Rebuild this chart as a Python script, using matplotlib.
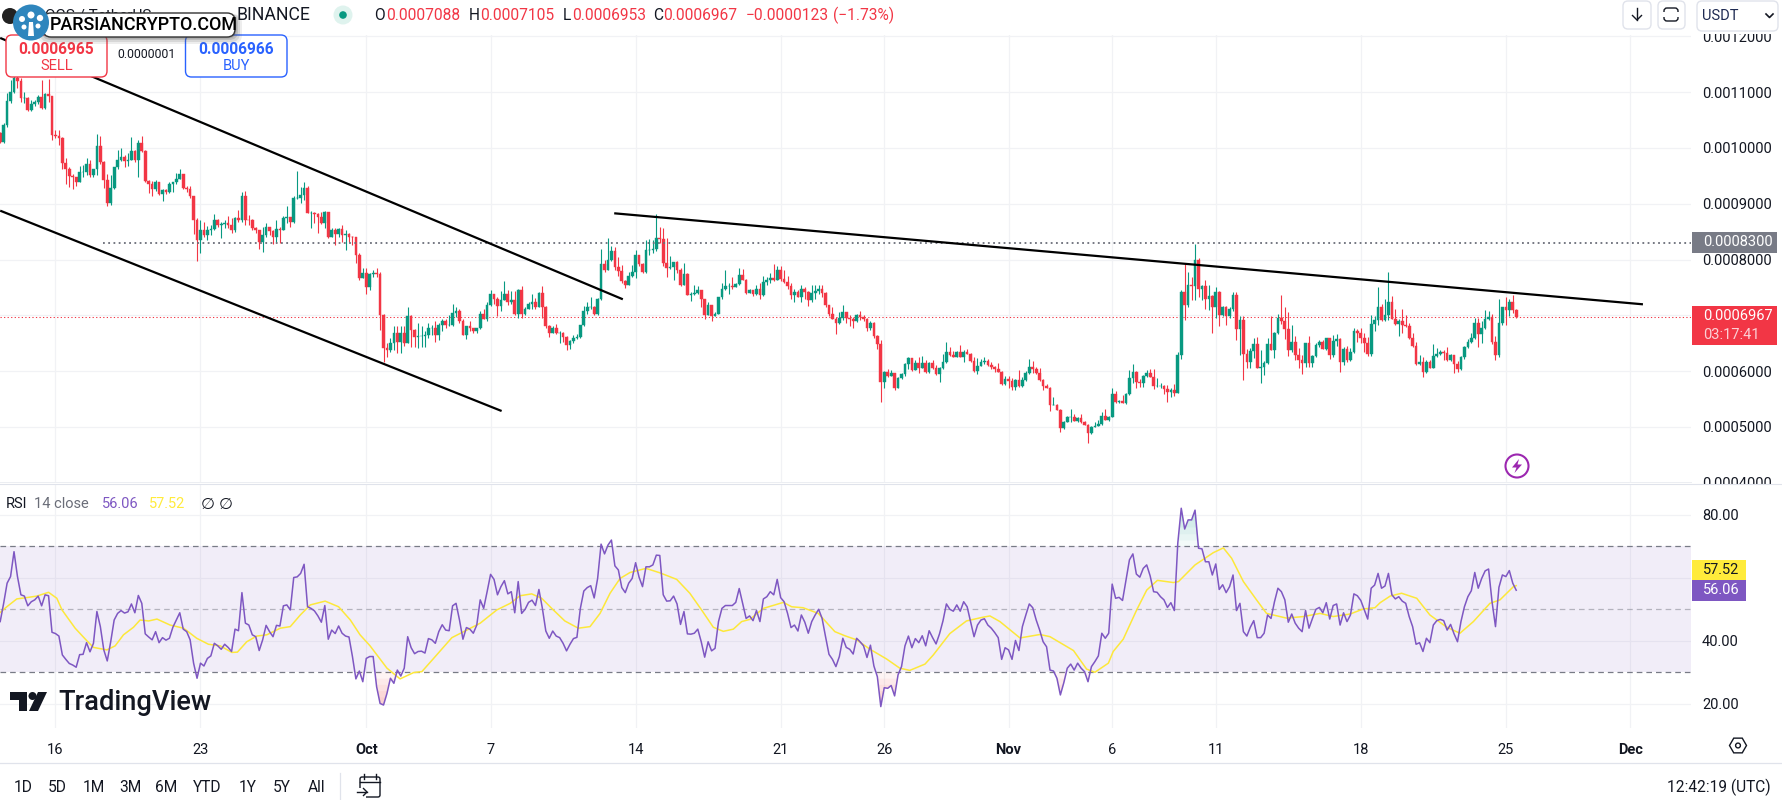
import matplotlib
matplotlib.use("Agg")
import matplotlib.pyplot as plt
import matplotlib.dates as mdates
import numpy as np
import pandas as pd
from matplotlib.patches import FancyBboxPatch, Circle, Polygon, Rectangle
from matplotlib.transforms import Bbox

# ---------- data (prices in millionths of USDT) ----------
first_open = 1026
closes = [
1011,1041,1084,1101,1125,1120,1090,1090,1068,1078, 1082,1091,1071,1096,1093,1023,1021,1017,973,963,
950,947,939,957,957,971,951,962,1003,975, 942,902,928,965,978,984,976,979,994,978,
1009,995,941,935,926,939,917,925,921,935, 938,945,953,929,927,913,870,835,853,844,
853,855,870,862,864,865,862,852,874,870, 914,871,870,856,852,832,844,858,851,841,
854,853,874,876,868,910,910,916,929,884, 884,881,877,866,885,841,852,846,854,844,
846,841,840,808,766,775,751,774,775,774, 700,642,638,650,668,653,668,651,699,674,
662,663,663,665,677,677,665,683,689,683, 683,705,708,690,665,680,677,672,677,703,
694,718,738,730,717,728,738,723,727,703, 745,702,711,720,724,714,740,715,681,668,
678,668,669,662,647,654,659,662,682,708, 714,715,702,729,792,781,800,816,787,780,
762,754,770,778,808,792,777,817,817,818, 838,836,793,784,787,795,781,755,774,737,
739,740,745,729,700,718,699,703,732,748, 752,752,750,756,772,764,740,745,738,748,
736,760,763,767,763,781,765,760,752,737, 742,733,747,741,727,740,744,748,740,718,
702,694,687,696,706,696,693,689,700,697, 693,678,687,663,648,581,599,592,596,569,
588,595,613,624,602,614,605,614,598,614, 605,595,606,617,634,628,626,635,625,635,
631,619,600,610,617,618,611,607,604,599, 577,586,583,571,584,573,584,597,608,604,
596,584,574,570,539,540,530,498,509,518, 518,511,516,508,503,489,500,502,505,520,
512,518,559,544,547,543,559,588,598,581, 579,591,596,590,574,574,574,568,563,567,
561,629,742,718,754,753,799,747,752,730, 734,714,742,700,714,699,711,736,675,692,
631,617,636,649,606,607,614,649,638,668, 696,689,675,637,652,629,620,615,650,614,
627,647,652,640,659,629,654,657,617,639, 620,635,672,668,660,651,631,684,692,714,
692,701,724,694,685,689,683,680,659,645, 613,616,599,617,606,627,631,635,632,620,
628,613,604,625,644,652,659,687,667,677, 693,697,652,628,686,714,710,724,709,697]
highs = [
1029,1045,1098,1122,1134,1131,1125,1101,1092,1086, 1086,1095,1122,1098,1123,1093,1032,1032,1019,981,
965,953,948,968,969,981,978,963,1025,1021, 976,954,951,966,997,999,988,990,1019,997,
1014,1021,996,942,941,942,939,927,926,938, 939,955,962,954,932,932,914,874,871,867,
860,862,882,873,868,870,878,874,877,889, 921,923,880,872,859,853,859,865,859,853,
871,858,878,895,877,914,959,930,939,932, 887,886,884,886,887,885,856,856,856,862,
853,847,842,841,811,784,784,775,781,784, 778,703,650,659,680,680,681,680,714,700,
675,687,680,671,686,683,689,686,693,694, 700,721,714,711,693,681,690,677,678,708,
712,723,745,739,733,744,761,746,743,744, 748,752,714,724,739,731,742,752,717,682,
681,685,672,670,663,656,665,666,683,717, 723,732,717,731,818,800,838,824,823,805,
790,763,778,790,817,808,794,835,836,835, 881,858,856,839,806,796,797,784,793,775,
742,754,752,746,730,723,718,706,733,758, 781,757,768,758,784,783,765,748,746,754,
757,770,768,775,792,788,788,782,770,757, 748,746,754,750,744,754,754,755,754,742,
718,715,697,706,718,706,700,697,702,708, 700,696,690,688,665,655,601,603,602,597,
590,596,615,626,624,620,626,627,620,616, 620,611,608,631,652,644,636,636,647,637,
640,633,626,623,621,626,621,617,609,614, 600,592,592,587,585,602,590,600,622,618,
608,606,586,577,572,553,541,532,510,519, 533,524,517,523,511,506,502,509,512,527,
533,520,569,564,549,557,561,602,613,600, 586,593,602,604,604,588,578,575,575,570,
577,635,745,792,778,769,828,803,754,763, 755,736,751,744,717,717,714,742,741,698,
698,639,641,660,661,638,619,659,698,670, 702,736,715,706,683,663,641,629,651,663,
629,651,655,655,660,660,665,666,660,643, 645,641,677,675,678,669,662,701,699,750,
720,729,777,735,712,694,711,701,686,668, 653,629,626,620,620,648,641,637,638,644,
630,629,619,627,645,657,669,696,696,690, 709,708,702,663,730,715,732,729,736,711]
lows = [
1008,1008,1038,1081,1099,1107,1083,1080,1067,1067, 1075,1079,1069,1069,1083,1015,1017,1005,963,935,
930,926,932,939,948,951,947,948,951,972, 929,895,898,926,962,977,965,968,978,975,
948,993,939,919,913,923,916,905,917,920, 921,935,944,927,921,910,846,798,812,841,
835,844,853,859,838,856,856,848,850,868, 868,862,862,853,847,818,814,841,844,828,
832,829,852,866,859,866,909,901,907,883, 857,865,847,864,856,838,840,826,841,832,
817,832,826,793,763,766,739,745,769,768, 674,617,626,635,638,632,632,645,659,644,
644,641,644,644,659,665,653,656,671,677, 680,680,697,687,665,657,672,669,668,675,
693,690,717,721,699,708,727,718,721,700, 696,696,700,711,711,712,715,696,678,662,
668,666,650,653,638,640,650,657,660,680, 703,712,701,700,727,778,781,798,782,770,
757,749,754,768,766,788,775,775,808,811, 816,829,789,768,783,764,776,752,756,736,
726,737,739,715,694,700,690,699,702,730, 746,738,748,750,754,763,739,740,735,736,
730,735,754,757,762,763,762,757,748,730, 724,732,724,730,717,724,730,738,733,715,
699,693,666,684,691,687,680,678,688,691, 690,671,674,660,639,545,569,590,591,566,
569,586,592,603,601,602,597,605,596,597, 603,593,581,603,615,627,625,625,625,617,
630,617,599,595,609,613,609,603,599,598, 575,576,569,566,567,571,571,583,595,596,
595,583,567,569,529,539,530,490,496,508, 509,511,509,507,503,472,488,499,502,503,
512,511,517,543,543,542,541,557,578,570, 572,571,589,589,568,571,569,559,545,554,
555,560,621,692,714,727,727,732,727,712, 710,669,695,681,698,683,696,708,655,629,
584,605,606,623,605,579,593,613,637,624, 667,684,657,627,635,620,605,595,608,608,
608,625,644,639,637,621,626,645,599,611, 617,619,632,653,650,635,627,627,671,683,
690,690,692,693,683,663,669,679,657,644, 611,611,590,597,605,605,625,628,620,619,
619,597,599,602,622,641,650,657,643,650, 675,692,649,620,626,683,683,698,705,695]
rsi = [
46.1,51.9,58.3,60.4,68.3,60.4,54.6,54.2,51.1,52.4, 53.0,54.2,51.1,54.6,54.3,42.7,42.3,41.5,35.5,34.1,
32.8,32.3,31.6,35.6,35.7,39.4,36.5,39.2,49.3,44.5, 37.1,33.6,39.7,46.6,48.7,49.6,48.8,49.2,51.7,48.9,
54.4,51.9,42.2,41.2,40.3,42.9,39.4,41.0,40.2,40.8, 44.3,46.6,48.9,43.7,42.9,40.3,32.9,28.1,32.9,32.0,
34.4,35.2,39.2,38.4,37.3,38.9,37.9,36.6,43.7,43.2, 55.3,45.6,45.0,41.9,41.3,36.9,40.3,44.9,42.9,41.3,
44.9,44.7,51.1,51.4,49.8,60.1,60.3,61.4,64.3,50.8, 50.3,49.5,47.9,45.9,51.2,40.5,43.4,42.3,44.7,42.4,
41.5,41.2,35.0,27.9,30.4,27.0,34.4,35.0,35.0,25.4, 20.1,19.6,23.3,28.1,26.5,30.7,28.8,31.3,41.3,37.8,
35.9,36.6,36.7,36.1,40.7,40.3,39.2,42.9,45.1,43.4, 43.2,51.1,51.9,46.6,40.5,44.2,43.7,42.4,45.0,53.0,
50.3,55.6,61.1,59.5,54.6,57.2,59.1,54.9,55.6,48.9, 58.8,48.7,50.0,52.2,52.9,51.2,56.3,50.3,43.1,40.8,
43.1,41.5,41.0,39.2,36.8,38.9,40.7,41.1,50.3,55.8, 56.9,57.5,53.6,59.8,70.7,67.6,70.4,72.0,63.8,62.5,
56.9,55.3,58.3,59.8,64.8,60.2,57.2,63.5,63.5,64.1, 67.2,67.1,54.6,52.6,52.7,54.2,51.7,45.2,49.3,42.2,
42.1,42.4,43.7,39.7,34.8,39.7,36.8,37.6,46.1,50.3, 51.2,51.2,51.2,52.2,56.6,51.9,47.1,47.9,46.4,49.6,
46.1,53.3,54.0,55.6,54.6,59.5,53.7,52.4,48.7,44.2, 45.0,43.1,48.2,45.9,42.4,46.1,48.2,50.0,47.1,41.3,
35.7,34.1,31.8,35.0,40.8,37.9,37.3,35.8,40.8,39.7, 38.4,34.7,38.6,32.0,28.6,19.1,25.1,24.9,25.8,22.5,
29.2,31.8,38.4,41.5,37.8,40.7,39.4,41.6,38.4,43.2, 41.0,39.0,42.2,46.3,51.7,50.0,49.4,51.4,49.4,52.4,
50.8,46.1,41.3,45.0,46.6,47.0,45.0,44.0,42.6,41.0, 34.1,37.8,37.1,34.1,40.1,36.9,44.5,48.2,51.7,50.5,
46.6,43.4,39.7,38.1,30.7,30.4,28.1,22.8,26.7,31.3, 32.6,30.7,32.9,31.3,30.2,27.0,31.8,33.4,35.2,42.4,
40.8,42.4,58.0,53.5,53.8,52.8,59.3,65.7,67.6,61.2, 60.2,63.0,64.1,60.6,55.6,55.4,54.0,53.0,50.6,52.1,
49.6,71.0,82.1,75.5,78.4,78.4,81.5,69.4,69.2,65.1, 65.1,60.9,64.4,56.3,57.8,55.3,57.2,60.9,49.6,51.9,
42.9,41.5,44.3,46.4,41.0,41.0,42.4,48.2,47.1,52.4, 56.7,55.6,53.0,45.9,48.5,45.6,44.0,42.9,49.6,44.0,
47.1,50.0,50.6,48.9,52.1,46.9,51.2,51.7,45.0,48.9, 46.1,48.2,54.9,54.3,52.8,49.8,46.9,56.7,57.7,61.4,
56.7,57.4,61.4,54.6,53.3,54.0,52.6,51.9,47.7,44.5, 38.9,39.4,36.6,40.8,39.4,45.0,46.4,46.8,46.4,43.4,
45.2,42.2,39.7,46.1,50.8,54.0,55.9,61.7,56.7,59.8, 62.2,62.8,52.4,44.5,57.0,60.9,60.4,62.3,58.3,56.06]
ma_bar = [
0,1.9,4.8,8.2,10.6,14,16.4,17.9,21.7,25.1,27,30.9,33.3,35.7,38.6,40.5,43,45.4,49.2,53.1,56.9,60.3,63.7,67.1,68.7,
71.4,74.3,77.2,81.1,84,86.9,89.8,94.1,98,101.4,104.2,107.1,112,115.8,119.7,122.1,125.5,130.8,135.1,139,143.8,147.7,
150.5,153.9,156.8,159.7,163.5,167.4,170.8,173.7,176.6,179.5,182.4,187,191,195.9,199.7,203.1,206.5,209.4,212.3,214.7,
217.1,221,226.8,229.2,232.5,236.9,241.7,244.6,248,251.9,256.7,260.5,263.4,267.8,270.2,275,279.8,284.2,286.6,289.5,
295.3,301.1,304,310.8,314.6,317,320.9,322.3,325.2,329.1,332,335.1,339.7,341.2,346,351.3,354.2,356.6,360,363.8,366.7,
372.5,377.4,382.2,386,390.9,394.7,398.1,399.6,402.5,405.8,410.2,414,418.9,422.7,426.6,431.4,434.3,438.2,439]
ma_val = [
49.0,50.8,53.3,53.8,54.2,55.4,53.5,49.8,44.0,40.0,37.9,37.1,38.4,41.9,44.3,46.6,46.3,46.9,45.0,44.0,40.8,38.9,38.4,36.3,36.4,
39.7,41.5,41.9,44.0,44.5,48.2,51.4,52.6,50.8,46.6,41.9,38.4,31.3,27.9,29.9,30.2,34.4,41.0,43.4,45.6,49.8,51.9,
54.3,54.9,53.5,50.3,46.3,44.0,44.5,48.7,55.1,59.8,61.7,63.0,61.6,59.5,55.1,49.8,44.3,43.0,43.7,46.1,
46.8,50.3,52.2,50.8,50.5,48.7,42.9,41.6,40.3,37.3,34.2,31.3,30.6,32.6,35.5,42.3,46.3,47.4,47.9,46.1,
40.9,42.0,41.3,36.9,31.0,30.0,32.9,36.6,40.5,49.8,56.1,59.2,58.5,58.8,64.1,68.0,69.5,66.2,58.8,53.0,48.7,
47.2,47.7,48.7,47.7,48.5,50.1,50.5,52.1,54.2,55.1,53.5,48.2,44.3,42.4,46.1,51.9,53.0,57.2,57.52]

upper_channel_bar = [0, 180.3]
upper_channel_price = [1197, 728.7]
lower_channel_bar = [0, 145.2]
lower_channel_price = [887.5, 528.5]
resistance_bar = [177.8, 475.7]
resistance_price = [882.8, 719.7]
level_bar_start = 29.8
level_price = 830
last_price = 696.7

price_ticks = [400, 500, 600, 700, 800, 900, 1000, 1100, 1200]
tick_dates = ["2024-09-16","2024-09-23","2024-10-01","2024-10-07","2024-10-14","2024-10-21","2024-10-26",
              "2024-11-01","2024-11-06","2024-11-11","2024-11-18","2024-11-25","2024-12-01"]
tick_labels = ["16","23","Oct","7","14","21","26","Nov","6","11","18","25","Dec"]
rsi_ticks = [20, 40, 60, 80]
rsi_tick_labels = ["20.00", "40.00", "", "80.00"]

# ---------- style ----------
UP, DOWN = "#089981", "#f23645"
GRID = "#f1f2f5"
INK = "#131722"
GREY = "#787b86"
PURPLE = "#7e57c2"
YELLOW = "#ffeb3b"
W, H = 1782, 800
plt.rcParams["font.family"] = ["Roboto", "DejaVu Sans"]
FS = 10.5

def rect(x0, y0, x1, y1):
    return [x0 / W, 1 - y1 / H, (x1 - x0) / W, (y1 - y0) / H]

fig = plt.figure(figsize=(W / 100, H / 100), dpi=100, facecolor="white")
ax = fig.add_axes(rect(0, 35, 1691, 483))
ax2 = fig.add_axes(rect(0, 484, 1691, 728))
ov = fig.add_axes([0, 0, 1, 1], zorder=10)
ov.set_xlim(0, W); ov.set_ylim(H, 0); ov.axis("off"); ov.patch.set_alpha(0)

N = len(closes)
t0 = mdates.date2num(pd.Timestamp("2024-09-13 08:00"))
bar_days = 1 / 6
xs = t0 + np.arange(N) * bar_days
def bar_x(b):
    return t0 + np.asarray(b, dtype=float) * bar_days
day_px = 20.72
xlim = (t0 - 0.2 / day_px, t0 + (1691 - 0.2) / day_px)

opens = np.array([first_open] + closes[:-1], dtype=float) * 1e-6
c = np.array(closes, dtype=float) * 1e-6
hi = np.maximum(np.array(highs, dtype=float) * 1e-6, np.maximum(opens, c))
lo = np.minimum(np.array(lows, dtype=float) * 1e-6, np.minimum(opens, c))
colors = [UP if cc >= oo else DOWN for oo, cc in zip(opens, c)]

for a in (ax, ax2):
    a.set_xlim(*xlim)
    a.set_axisbelow(True)
    for s in a.spines.values():
        s.set_visible(False)
    a.grid(True, color=GRID, lw=0.9)
    a.set_xticks([mdates.date2num(pd.Timestamp(d)) for d in tick_dates])
    a.yaxis.tick_right()
    a.tick_params(length=0)

# main pane
ax.set_ylim(399.5e-6, 1202.3e-6)
ax.vlines(xs, lo, hi, colors=colors, lw=0.8, zorder=3)
ax.bar(xs, c - opens, bottom=opens, width=2.7 / day_px, color=colors, edgecolor=colors, lw=0.3, zorder=4)
ax.axhline(last_price * 1e-6, color=DOWN, lw=0.75, ls=(0, (1.2, 2.2)), zorder=2)
ax.plot([bar_x(level_bar_start), xlim[1]], [level_price * 1e-6] * 2, color="#6a6d78", lw=1.3, ls=(0, (1, 1.9)), zorder=5)
for bx, pr in ((upper_channel_bar, upper_channel_price), (lower_channel_bar, lower_channel_price),
               (resistance_bar, resistance_price)):
    ax.plot(bar_x(bx), np.array(pr) * 1e-6, color="black", lw=1.6, zorder=6, solid_capstyle="butt")
ax.set_yticks([p * 1e-6 for p in price_ticks])
ax.set_yticklabels([f"{p * 1e-6:.7f}" for p in price_ticks], fontsize=FS, color=INK)
ax.tick_params(axis="y", pad=8)
ax.tick_params(axis="x", labelbottom=False)
clip = Bbox([[1692, H - 483.5], [W, H - 34]])
for lab in ax.get_yticklabels():
    lab.set_clip_on(True)
    lab.set_clip_box(clip)

# RSI pane
ax2.set_ylim(12.3, 89.8)
r = np.array(rsi)
ax2.axhspan(30, 70, color=PURPLE, alpha=0.1, lw=0, zorder=1)
ax2.axhline(70, color=GREY, lw=0.9, ls=(0, (4.5, 3.2)), zorder=2)
ax2.axhline(30, color=GREY, lw=0.9, ls=(0, (4.5, 3.2)), zorder=2)
ax2.axhline(50, color=GREY, lw=0.9, ls=(0, (4.5, 3.2)), alpha=0.5, zorder=2)
for lvl in (30, 28, 26, 24, 22, 20):
    ax2.fill_between(xs, r, lvl, where=r < lvl, interpolate=True, color="#ef5350", alpha=0.06, lw=0, zorder=2)
for lvl in (70, 72, 74, 76, 78):
    ax2.fill_between(xs, r, lvl, where=r > lvl, interpolate=True, color="#26a69a", alpha=0.05, lw=0, zorder=2)
ax2.plot(bar_x(ma_bar), ma_val, color="#fdE83a", lw=1.1, zorder=3)
ax2.plot(xs, r, color=PURPLE, lw=1.1, zorder=4)
ax2.set_yticks(rsi_ticks)
ax2.set_yticklabels(rsi_tick_labels, fontsize=FS, color=INK)
ax2.tick_params(axis="y", pad=8)
ax2.set_xticklabels(tick_labels, fontsize=FS, color=INK)
ax2.tick_params(axis="x", pad=11)
for lab, name in zip(ax2.get_xticklabels(), tick_labels):
    if name in ("Oct", "Nov", "Dec"):
        lab.set_fontweight("bold")

# overlay helpers
def T(x, y, s, color=INK, size=FS, ha="left", weight="normal", **k):
    ov.text(x, y, s, color=color, fontsize=size, ha=ha, va="center", fontweight=weight, **k)
def box(x0, y0, x1, y1, fc="white", ec="none", lw=1, rs=4, z=5, alpha=None):
    ov.add_patch(FancyBboxPatch((x0 + rs, y0 + rs), x1 - x0 - 2 * rs, y1 - y0 - 2 * rs,
                                boxstyle=f"round,pad={rs},rounding_size={rs}", fc=fc, ec=ec, lw=lw, zorder=z, alpha=alpha))

# pane separators
ov.plot([0, 1691], [482, 482], color="#eceef2", lw=0.7)
ov.plot([0, W], [484, 484], color="#e0e3eb", lw=0.8)
ov.plot([0, W], [762.7, 762.7], color="#e0e3eb", lw=0.9)

# header legend
T(45, 15, "OGS / TetherUS", size=11, color=INK)
T(237, 15, "BINANCE", size=12.7)
ov.add_patch(Circle((343, 15), 9.5, fc="#dff3ee", ec="none"))
ov.add_patch(Circle((343, 15), 3.8, fc=UP, ec="none"))
for lx, vx, l, v in ((374, 386, "O", "0.0007088"), (469, 480, "H", "0.0007105"),
                     (563, 572, "L", "0.0006953"), (653, 663, "C", "0.0006967")):
    T(lx, 15, l, size=11.2)
    T(vx, 15, v, color=DOWN, size=11.2)
T(746, 15, "\u22120.0000123", color=DOWN, size=11.2)
T(833, 15, "(\u22121.73%)", color=DOWN, size=11.2)

# sell / buy boxes
box(6, 35, 107, 77, ec=DOWN, lw=1, rs=6)
T(56.5, 49, "0.0006965", color=DOWN, ha="center", weight="bold", size=11.2, zorder=6)
T(56.5, 66, "SELL", color=DOWN, ha="center", size=10.5, zorder=6)
T(146, 55, "0.0000001", ha="center", size=8.8, zorder=6)
box(185.5, 35, 287, 77, ec="#2962ff", lw=1, rs=6)
T(236, 49, "0.0006966", color="#2962ff", ha="center", weight="bold", size=11.2, zorder=6)
T(236, 66, "BUY", color="#2962ff", ha="center", size=10.5, zorder=6)

# watermark pill and logo
for pad, al in ((7, 0.10), (5, 0.14), (3, 0.2), (1.5, 0.25)):
    box(43 - pad + 2, 13 + 1, 235 + pad, 37 + pad, fc="#555555", rs=9, z=7, alpha=al)
box(43, 13, 235, 37, fc="white", ec="#333333", lw=1, rs=8, z=8)
ov.add_patch(Circle((10, 16), 8, fc="#222222", ec="none", zorder=4))
T(50, 25, "PARSIANCRYPTO.COM", color="black", size=12.9, weight="medium", zorder=9)
ov.add_patch(Circle((31, 22.5), 18, fc="#2f86bd", ec="none", zorder=9))
ov.add_patch(Polygon([(28, 36), (34, 36), (33, 22), (29, 22)], fc="white", ec="none", zorder=10))
for cx, cy, rr in ((31, 15, 3.5), (22, 19, 3), (40, 18, 3.2), (24, 27, 2.5), (38, 26, 2.5)):
    ov.add_patch(Circle((cx, cy), rr, fc="white", ec="none", zorder=10))

# top right buttons
box(1623, 1, 1651, 29, ec="#e0e3eb", lw=1, rs=5)
ov.plot([1637, 1637], [8, 20], color=INK, lw=1, zorder=6)
ov.plot([1632.5, 1637, 1641.5], [15.5, 20, 15.5], color=INK, lw=1, zorder=6)
box(1658, 1, 1685, 29, ec="#e0e3eb", lw=1, rs=5)
box(1664, 8, 1678, 21, ec=INK, lw=1, rs=3)
ov.add_patch(Rectangle((1661, 12), 20, 5, fc="white", ec="none", zorder=6))
box(1697, 1, 1778, 31, ec="#e0e3eb", lw=1, rs=5)
T(1702, 16, "USDT", color="#1e2a52", size=10.5, zorder=6)
ov.plot([1766, 1769.5, 1773], [14, 17.5, 14], color=INK, lw=1.2, zorder=6)

# price scale labels
ov.add_patch(Rectangle((1692, 232), 85, 21, fc=GREY, ec="none", zorder=5))
T(1703, 242.5, "0.0008300", color="white", zorder=6)
ov.add_patch(Rectangle((1692, 306), 85, 39, fc=DOWN, ec="none", zorder=5))
T(1703, 316.5, "0.0006967", color="white", zorder=6)
T(1703, 335, "03:17:41", color="#fbd0d5", zorder=6)
ov.add_patch(Rectangle((1692, 559.5), 54, 20.5, fc=YELLOW, ec="none", zorder=5))
T(1703, 569.5, "57.52", color=INK, zorder=6)
ov.add_patch(Rectangle((1692, 580), 54, 20.5, fc=PURPLE, ec="none", zorder=5))
T(1703, 590.5, "56.06", color="white", zorder=6)

# RSI legend
T(6, 504, "RSI", size=FS)
T(33.5, 504, "14 close", color="#6a6d78", size=FS)
T(102, 504, "56.06", color=PURPLE, size=FS)
T(149, 504, "57.52", color=YELLOW, size=FS)
T(201, 504, "\u2205", size=11.5)
T(219, 504, "\u2205", size=11.5)

# TradingView logo
ov.add_patch(Polygon([(10, 692), (27, 692), (27, 711), (19, 711), (19, 700), (10, 700)], fc=INK, ec="none"))
ov.add_patch(Circle((32.5, 696), 4, fc=INK, ec="none"))
ov.add_patch(Polygon([(38, 692), (47, 692), (38, 711), (29, 711)], fc=INK, ec="none"))
T(58, 702, "TradingView", size=19.6, weight="medium")

# lightning mark
ov.add_patch(Circle((1517, 466), 11.5, fc="white", ec="#9c27b0", lw=1.5))
ov.add_patch(Polygon([(1519, 459), (1512, 467.5), (1516.5, 467.5), (1514.5, 473), (1522, 464.5), (1517.5, 464.5)],
                     fc="#9c27b0", ec="none"))

# bottom toolbar
for x, s in ((23, "1D"), (57.5, "5D"), (94, "1M"), (130, "3M"), (166.5, "6M"), (207.5, "YTD"),
             (248, "1Y"), (282, "5Y"), (317, "All")):
    T(x, 787, s, ha="center", size=11.2)
ov.plot([340, 340], [773, 800], color="#e0e3eb", lw=0.9)
box(360, 777, 380, 797, ec=INK, lw=1, rs=2)
ov.add_patch(Rectangle((357, 788), 9, 10, fc="white", ec="none", zorder=6))
ov.plot([360, 380], [782, 782], color=INK, lw=1, zorder=7)
ov.plot([364, 364], [774, 779], color=INK, lw=1, zorder=7)
ov.plot([376, 376], [774, 779], color=INK, lw=1, zorder=7)
ov.plot([357, 367], [792, 792], color=INK, lw=1, zorder=7)
ov.plot([363.5, 367, 363.5], [788.5, 792, 795.5], color=INK, lw=1, zorder=7)
T(1771, 787, "12:42:19 (UTC)", ha="right", size=11.2)

# settings icon
ang = np.deg2rad(np.arange(0, 360, 60))
ov.add_patch(Polygon(np.c_[1738 + 8.5 * np.cos(ang), 745.5 + 8.5 * np.sin(ang)], fc="white", ec=INK, lw=1))
ov.add_patch(Circle((1738, 745.5), 2.4, fc="white", ec=INK, lw=1))

fig.savefig("out.png", dpi=100, facecolor="white")
